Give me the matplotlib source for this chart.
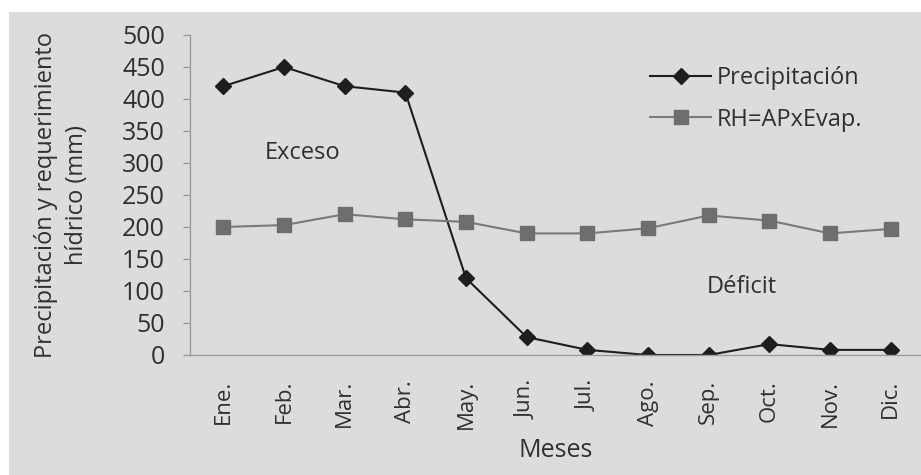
import matplotlib
matplotlib.use("Agg")
import matplotlib.pyplot as plt
from matplotlib.patches import Rectangle

plt.rcParams['font.family'] = ['Open Sans', 'DejaVu Sans']

# Monthly rainfall vs. crop water requirement (mm)
meses = ["Ene.", "Feb.", "Mar.", "Abr.", "May.", "Jun.",
         "Jul.", "Ago.", "Sep.", "Oct.", "Nov.", "Dic."]
precipitacion = [420, 450, 420, 410, 120, 28, 8, 0, 0, 17, 8, 8]
rh_apxevap = [200, 203, 220, 212, 208, 190, 190, 198, 218, 210, 190, 197]
y_ticks = [0, 50, 100, 150, 200, 250, 300, 350, 400, 450, 500]

text_color = "#303030"
axis_color = "#9a9a9a"
paper = "#dcdcdc"

fig = plt.figure(figsize=(9.21, 4.75), dpi=100)
fig.patch.set_facecolor("white")
# scanned page background
fig.add_artist(Rectangle((9 / 921, 0), 1, 1 - 12 / 475, transform=fig.transFigure,
                         facecolor=paper, edgecolor="none", zorder=-10))

ax = fig.add_axes([190 / 921, 1 - 355 / 475, 731 / 921, (355 - 35) / 475])
ax.set_facecolor("none")

x = list(range(len(meses)))
ax.plot(x, precipitacion, color="#1e1e1e", lw=1.5, marker="D", markersize=8.5,
        markerfacecolor="#1e1e1e", markeredgecolor="#1e1e1e", label="Precipitación")
ax.plot(x, rh_apxevap, color="#7a7a7a", lw=1.5, marker="s", markersize=10,
        markerfacecolor="#6e6e6e", markeredgecolor="#6e6e6e", label="RH=APxEvap.")

ax.set_xlim(-0.55, 11.5)
ax.set_ylim(0, 500)
ax.set_yticks(y_ticks)
ax.set_xticks(x)
ax.set_xticklabels(meses, rotation=90, va="top")

for side in ["top", "right"]:
    ax.spines[side].set_visible(False)
for side in ["left", "bottom"]:
    ax.spines[side].set_color(axis_color)
    ax.spines[side].set_linewidth(1.0)

ax.tick_params(axis="y", colors=axis_color, length=5, width=1, pad=13,
               labelsize=18, labelcolor=text_color)
ax.tick_params(axis="x", length=0, pad=18, labelsize=16, labelcolor=text_color)

ax.set_ylabel("Precipitación y requerimiento\nhídrico (mm)", fontsize=17,
              color=text_color, labelpad=24, linespacing=1.4)
ax.set_xlabel("Meses", fontsize=18, color=text_color, labelpad=6)

ax.text(1.3, 316, "Exceso", fontsize=17, color=text_color, ha="center", va="center")
ax.text(8.55, 106, "Déficit", fontsize=17, color=text_color, ha="center", va="center")

leg = ax.legend(loc="upper left", bbox_to_anchor=(0.6, 0.97), frameon=False,
                fontsize=17, handlelength=2.6, handletextpad=0.25, labelspacing=0.75)
for t in leg.get_texts():
    t.set_color(text_color)

fig.savefig("out.png", dpi=100)
